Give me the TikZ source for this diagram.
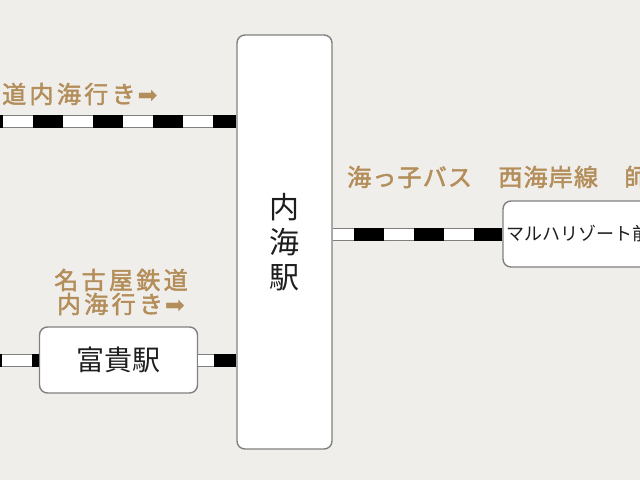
\documentclass[tikz,border=0pt]{standalone}
\usepackage{fontspec}
\setmainfont{Noto Sans CJK JP}
\newfontfamily\goldfont[FakeBold=2]{Noto Sans CJK JP}
\newfontfamily\arrowfont{DejaVu Sans}
\definecolor{bg}{HTML}{EFEEEB}
\definecolor{gold}{HTML}{B48E5A}
\definecolor{edge}{HTML}{808080}
\definecolor{ink}{HTML}{1E1E1E}
\newcommand{\rarr}{{\arrowfont\fontsize{24}{24}\selectfont\hspace{2pt}➡}}
\tikzset{
  stn/.style={draw=edge, line width=1.4pt, fill=white, rounded corners=8pt, text=ink, inner sep=0pt},
  rail/.style={draw=edge, line width=13pt,
    postaction={draw=white, line width=11pt},
    postaction={draw=black, line width=13pt, dash pattern=on 30pt off 30pt, dash phase=#1}},
  goldtext/.style={text=gold, inner sep=0pt, font=\goldfont\addfontfeature{LetterSpace=14}\fontsize{24}{24}\selectfont}
}
\begin{document}
\begin{tikzpicture}[x=1pt,y=-1pt]
\useasboundingbox (0,0) rectangle (640,480);
\fill[bg] (0,0) rectangle (640,480);
\clip (0,0) rectangle (640,480);
% stations
\node[stn, minimum width=95pt, minimum height=414pt, align=center,
      font=\fontsize{30}{35}\selectfont] (utsumi) at (284.5,242) {内\\海\\駅};
\node[stn, minimum width=158pt, minimum height=66pt,
      font=\fontsize{28}{28}\selectfont] (fuki) at (118.5,360) {富貴駅};
\node[stn, minimum width=180pt, minimum height=66pt, text width=176pt, align=left,
      font=\fontsize{18}{18}\selectfont] (maruha) at (593,234) {\hspace*{1pt}マルハリゾート前};
% free ends
\coordinate (topL) at (0,121.5);
\coordinate (botL) at (0,360);
% rails
\draw[rail=7pt] (topL -| utsumi.west) -- (topL);
\draw[rail=8pt] (fuki.east -| utsumi.west) -- (fuki.east);
\draw[rail=23pt] (fuki.west) -- (botL);
\draw[rail=2pt] (maruha.west) -- (maruha.west -| utsumi.east);
% labels
\node[goldtext, anchor=east] (lblTop) at (158,94) {名古屋鉄道内海行き\rarr};
\node[goldtext, align=center, anchor=center] (lblFuki) at (121,292) {名古屋鉄道\\内海行き\rarr};
\node[goldtext, anchor=west, font=\goldfont\addfontfeature{LetterSpace=5}\fontsize{24}{24}\selectfont] (lblBus) at (347,177) {海っ子バス　西海岸線　師崎行き};
\end{tikzpicture}
\end{document}
